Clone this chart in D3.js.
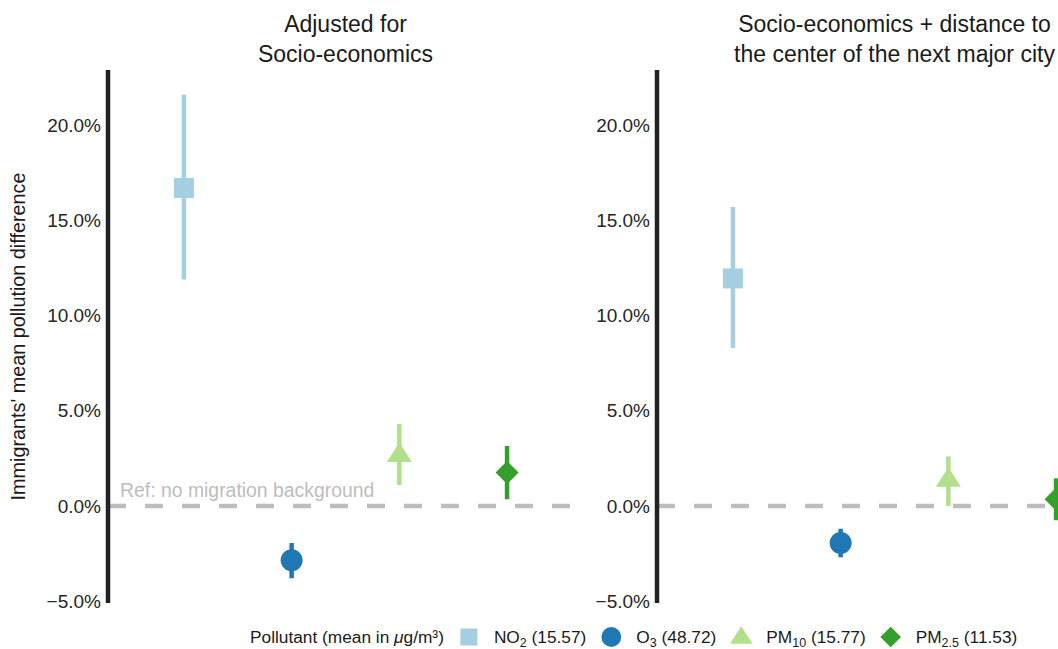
<!DOCTYPE html>
<html>
<head>
<meta charset="utf-8">
<script src="https://cdn.jsdelivr.net/npm/d3@7"></script>
<style>
  body { margin: 0; background: #fff; }
  svg { display: block; }
  text { font-family: "Liberation Sans", Arial, Helvetica, sans-serif; }
</style>
</head>
<body>
<svg id="chart" width="1058" height="649"></svg>
<script>
// Pollutants (x categories) and their legend labels
const pollutants = ["NO2", "O3", "PM10", "PM2.5"];
const pollutantBase = ["NO", "O", "PM", "PM"];
const pollutantSub = ["2", "3", "10", "2.5"];
const pollutantMeans = [15.57, 48.72, 15.77, 11.53];
const pollutantColors = ["#a6cee3", "#1f78b4", "#b2df8a", "#33a02c"];
const pollutantShapes = ["square", "circle", "triangle", "diamond"];

// Panel titles (two lines each)
const panelTitles = [
  ["Adjusted for", "Socio-economics"],
  ["Socio-economics + distance to", "the center of the next major city"]
];

// Estimated mean difference (%) with 95% interval, model 1
const estAdjusted = [16.7, -2.85, 2.7, 1.75];
const lowAdjusted = [11.9, -3.8, 1.1, 0.35];
const highAdjusted = [21.6, -1.95, 4.3, 3.15];

// Model 2: additionally adjusted for distance to city center
const estDistance = [11.95, -1.95, 1.4, 0.35];
const lowDistance = [8.3, -2.7, 0.0, -0.75];
const highDistance = [15.7, -1.2, 2.6, 1.45];

const yTicks = [-5, 0, 5, 10, 15, 20];

const panels = [
  { title: panelTitles[0], est: estAdjusted, low: lowAdjusted, high: highAdjusted, refLabel: true },
  { title: panelTitles[1], est: estDistance, low: lowDistance, high: highDistance, refLabel: false }
];

const svg = d3.select("#chart");
const panelLeft = [108, 657];
const panelWidth = 475;
const plotTop = 70, plotBottom = 603;

const y = d3.scaleLinear().domain([-5.1, 22.9]).range([plotBottom, plotTop]);
const fmt = d => d3.format(".1f")(d) + "%";

function shapePath(shape) {
  switch (shape) {
    case "square": return "M-10,-10H10V10H-10Z";
    case "circle": return d3.symbol(d3.symbolCircle, Math.PI * 11 * 11)();
    case "triangle": return "M0,-12L12.5,7.5L-12.5,7.5Z";
    case "diamond": return "M0,-11.5L11.5,0L0,11.5L-11.5,0Z";
  }
}

panels.forEach((p, pi) => {
  const x0 = panelLeft[pi];
  const x = d3.scalePoint().domain(pollutants).range([x0, x0 + panelWidth]).padding(0.705);
  const g = svg.append("g");

  // reference line at zero
  g.append("line")
    .attr("x1", x0).attr("x2", x0 + panelWidth)
    .attr("y1", y(0)).attr("y2", y(0))
    .attr("stroke", "#bdbdbd").attr("stroke-width", 4.5)
    .attr("stroke-dasharray", "18,19");

  if (p.refLabel) {
    g.append("text")
      .attr("x", x0 + 12).attr("y", y(0) - 9)
      .attr("font-size", 19.4).attr("fill", "#bdbdbd")
      .text("Ref: no migration background");
  }

  // y axis
  const axis = g.append("g")
    .attr("transform", `translate(${x0},0)`)
    .call(d3.axisLeft(y).tickValues(yTicks).tickFormat(fmt).tickSize(0).tickPadding(7));
  axis.select(".domain").remove();
  axis.selectAll("text").attr("font-size", 19).attr("fill", "#262626")
    .style("font-family", '"Liberation Sans", Arial, Helvetica, sans-serif');
  g.append("line")
    .attr("x1", x0).attr("x2", x0).attr("y1", plotTop).attr("y2", plotBottom)
    .attr("stroke", "#222").attr("stroke-width", 4.5);

  // intervals
  g.selectAll(".ci").data(pollutants).join("line")
    .attr("x1", d => x(d)).attr("x2", d => x(d))
    .attr("y1", (d, i) => y(p.low[i])).attr("y2", (d, i) => y(p.high[i]))
    .attr("stroke", (d, i) => pollutantColors[i]).attr("stroke-width", 4.5);

  // point estimates
  g.selectAll(".pt").data(pollutants).join("path")
    .attr("transform", (d, i) => `translate(${x(d)},${y(p.est[i])})`)
    .attr("d", (d, i) => shapePath(pollutantShapes[i]))
    .attr("fill", (d, i) => pollutantColors[i]);

  // title
  const cx = x0 + panelWidth / 2;
  g.append("text")
    .attr("x", cx).attr("y", 32).attr("text-anchor", "middle")
    .attr("font-size", 23).attr("fill", "#1a1a1a")
    .selectAll("tspan").data(p.title).join("tspan")
    .attr("x", cx).attr("dy", (d, i) => i === 0 ? 0 : 30)
    .text(d => d);
});

// y axis title
svg.append("text")
  .attr("transform", `translate(25,${(plotTop + plotBottom) / 2}) rotate(-90)`)
  .attr("text-anchor", "middle").attr("font-size", 19.8).attr("fill", "#1a1a1a")
  .text("Immigrants' mean pollution difference");

// legend
const legendY = 643;
const legend = svg.append("g");
let cursor = 250;
const lt = legend.append("text").attr("x", cursor).attr("y", legendY)
  .attr("font-size", 17.3).attr("fill", "#1a1a1a");
lt.append("tspan").text("Pollutant (mean in ");
lt.append("tspan").attr("font-style", "italic").text("μ");
lt.append("tspan").text("g/m³)");
cursor += lt.node().getComputedTextLength();

pollutants.forEach((d, i) => {
  const keyCx = cursor + 25;
  const scale = i === 0 ? 0.85 : 0.9;
  legend.append("path")
    .attr("transform", `translate(${keyCx},${legendY - 6}) scale(${scale})`)
    .attr("d", shapePath(pollutantShapes[i]))
    .attr("fill", pollutantColors[i]);
  const t = legend.append("text").attr("x", keyCx + 25).attr("y", legendY)
    .attr("font-size", 17.3).attr("fill", "#1a1a1a");
  t.append("tspan").text(pollutantBase[i]);
  t.append("tspan").attr("font-size", 12.5).attr("dy", 4).text(pollutantSub[i]);
  t.append("tspan").attr("dy", -4).text(" (" + d3.format(".2f")(pollutantMeans[i]) + ")");
  cursor = keyCx + 25 + t.node().getComputedTextLength();
});
</script>
</body>
</html>
